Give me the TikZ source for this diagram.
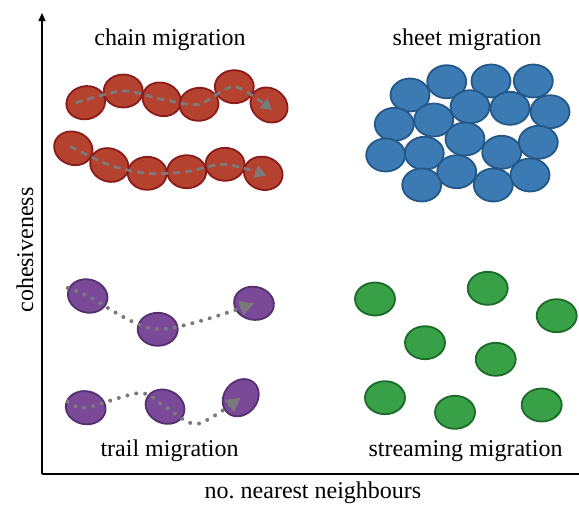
\documentclass[tikz,border=0pt]{standalone}
\usepackage{fontspec}
\setmainfont{Liberation Serif}
\usetikzlibrary{shapes.geometric, arrows.meta}

\definecolor{redfill}{HTML}{B5412F}
\definecolor{redline}{HTML}{8A1C1C}
\definecolor{bluefill}{HTML}{3C7AB3}
\definecolor{blueline}{HTML}{245889}
\definecolor{purplefill}{HTML}{7A4A99}
\definecolor{purpleline}{HTML}{553070}
\definecolor{greenfill}{HTML}{38A046}
\definecolor{greenline}{HTML}{1D6B2B}
\definecolor{trailgrey}{HTML}{7A7A7A}

\begin{document}
\begin{tikzpicture}[x=0.5pt, y=-0.5pt,
  cell/.style = {ellipse, draw, line width=0.9pt, inner sep=0pt, minimum width=19.5pt, minimum height=16.5pt},
  redcell/.style = {cell, fill=redfill, draw=redline},
  bluecell/.style = {cell, fill=bluefill, draw=blueline},
  purplecell/.style = {cell, fill=purplefill, draw=purpleline, minimum width=20pt, minimum height=16.5pt},
  greencell/.style = {cell, fill=greenfill, draw=greenline, minimum width=20pt},
  lbl/.style = {font=\fontsize{12}{14}\selectfont, anchor=base, inner sep=0pt},
  dashtrail/.style = {draw=trailgrey, line width=1.4pt, dash pattern=on 3.5pt off 2.5pt, -{Triangle[length=5.5pt, width=6pt]}},
  dottrail/.style = {draw=trailgrey, line width=2pt, line cap=round, dash pattern=on 0pt off 4.5pt, -{Triangle[length=7pt, width=7pt]}}]
\useasboundingbox (0,0) rectangle (579,504);

% axes
\coordinate (o) at (42,474);
\coordinate (ytop) at (42,13);
\coordinate (xend) at (579,474);
\draw[line width=0.6pt, -{Triangle[length=4pt, width=3.5pt]}] (o) -- (ytop);
\draw[line width=0.6pt] (o) -- (xend);
\node[lbl, rotate=90] (ylbl) at (33,250) {cohesiveness};
\node[lbl] (xlbl) at (313,498) {no.\ nearest neighbours};

% chain migration
\node[lbl] (chainlbl) at (170,45) {chain migration};
\node[redcell, rotate=12] (a1) at (85.7,102.7) {};
\node[redcell] (a2) at (123.3,91) {};
\node[redcell, rotate=-20] (a3) at (161.7,99.3) {};
\node[redcell, rotate=5] (a4) at (199,104.3) {};
\node[redcell] (a5) at (234.3,86.7) {};
\node[redcell, rotate=-35] (a6) at (269,105) {};
\node[redcell, rotate=-20] (b1) at (73.3,148.3) {};
\node[redcell, rotate=-20] (b2) at (109.3,165) {};
\node[redcell] (b3) at (147.3,173.3) {};
\node[redcell] (b4) at (186.7,171.7) {};
\node[redcell] (b5) at (225,164.3) {};
\node[redcell, rotate=-15] (b6) at (263.3,173.3) {};
\draw[dashtrail] plot[smooth] coordinates {([xshift=-5pt]a1.center) (a2) (a3) (a4) (a5) ([shift={(1.5pt,-2.5pt)}]a6.center)};
\draw[dashtrail] plot[smooth] coordinates {([shift={(-1.5pt,1pt)}]b1.center) (b2) (b3) (b4) (b5) ([shift={(1.5pt,-1pt)}]b6.center)};

% sheet migration
\node[lbl] (sheetlbl) at (467,45) {sheet migration};
\node[bluecell] (s1) at (410,95) {};
\node[bluecell] (s2) at (446.7,81.7) {};
\node[bluecell] (s3) at (491,81) {};
\node[bluecell] (s4) at (533.3,81) {};
\node[bluecell] (s5) at (394.3,124.3) {};
\node[bluecell] (s6) at (433.7,120) {};
\node[bluecell] (s7) at (470,106.7) {};
\node[bluecell] (s8) at (510,108.3) {};
\node[bluecell] (s9) at (550,111.7) {};
\node[bluecell] (s10) at (385.7,155) {};
\node[bluecell] (s11) at (424.3,153.3) {};
\node[bluecell] (s12) at (465,139) {};
\node[bluecell] (s13) at (501.7,152.3) {};
\node[bluecell] (s14) at (538.3,142.3) {};
\node[bluecell] (s15) at (421.7,185) {};
\node[bluecell] (s16) at (456.7,171.7) {};
\node[bluecell] (s17) at (493.3,185) {};
\node[bluecell] (s18) at (530,175) {};

% trail migration
\node[lbl] (traillbl) at (169.5,456) {trail migration};
\node[purplecell, rotate=-15] (t1) at (87.7,296) {};
\node[purplecell] (t2) at (157.7,329.3) {};
\node[purplecell, rotate=-10] (t3) at (254,303.3) {};
\node[purplecell, rotate=-10] (t4) at (85.7,407.7) {};
\node[purplecell, rotate=-25] (t5) at (165,406.7) {};
\node[purplecell, rotate=50] (t6) at (240.7,397.7) {};
\coordinate (k1) at (140,393);
\coordinate (k2) at (197,424);
\draw[dottrail] plot[smooth] coordinates {([shift={(-10pt,4pt)}]t1.center) (t1) (t2) (t3)};
\draw[dottrail] plot[smooth] coordinates {([shift={(-9pt,3pt)}]t4.center) (t4) (k1) (t5) (k2) (t6)};

% streaming migration
\node[lbl] (streamlbl) at (465.5,456) {streaming migration};
\node[greencell] (g1) at (375,299) {};
\node[greencell] (g2) at (487.7,288.3) {};
\node[greencell] (g3) at (556.7,315.7) {};
\node[greencell] (g4) at (425,342.7) {};
\node[greencell] (g5) at (495.7,359.3) {};
\node[greencell] (g6) at (385,397.7) {};
\node[greencell] (g7) at (455,412.3) {};
\node[greencell] (g8) at (541.7,405) {};
\end{tikzpicture}
\end{document}
